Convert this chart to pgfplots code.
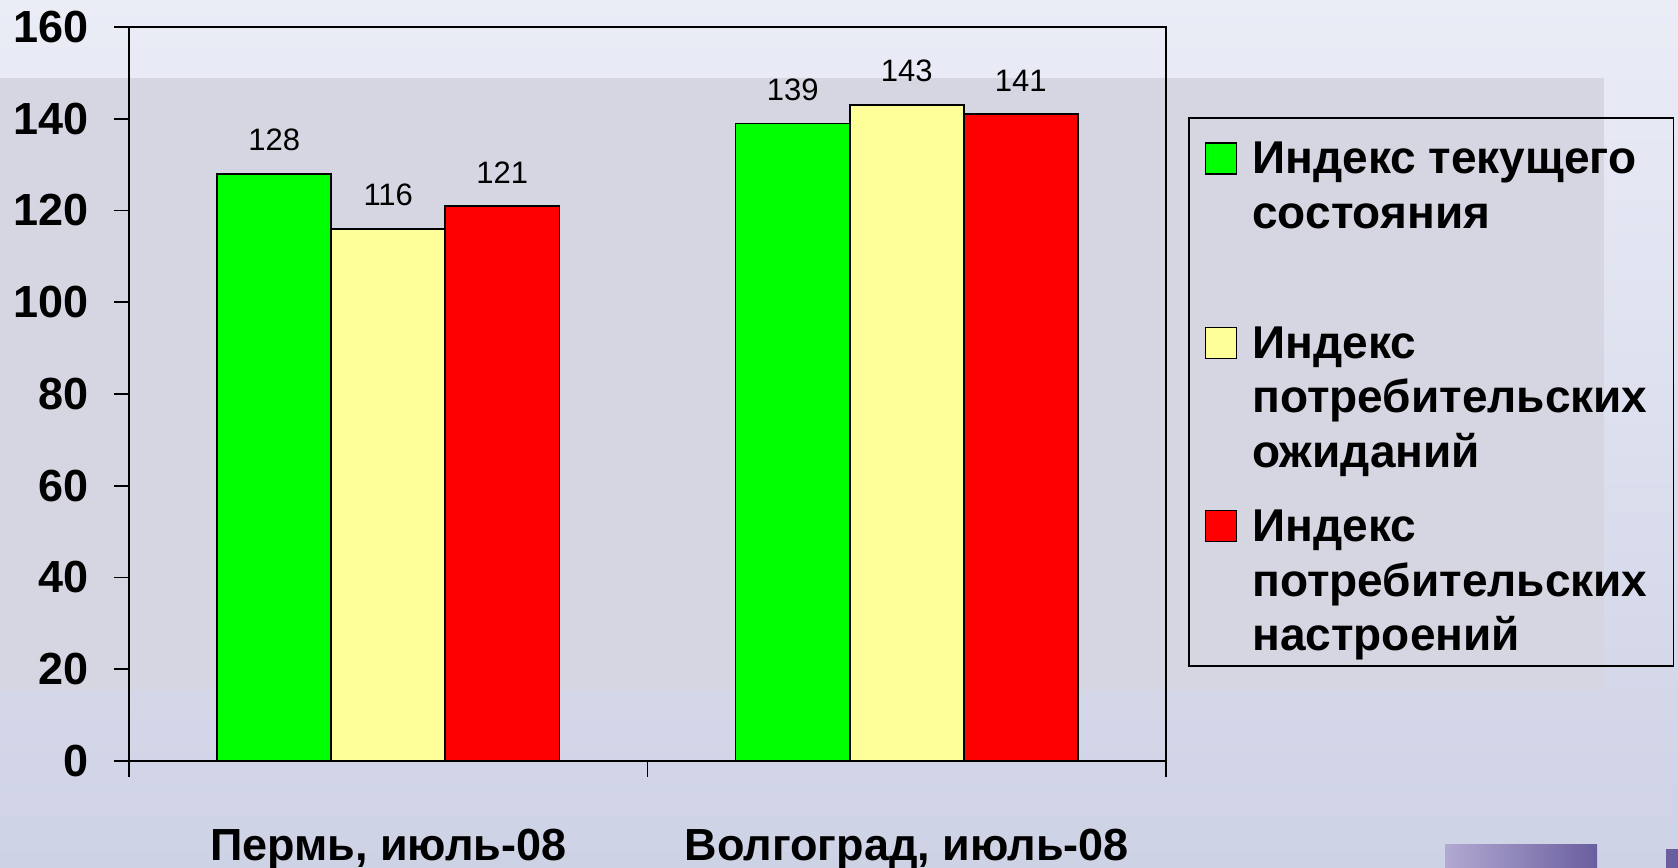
\documentclass[border=0pt]{standalone}
\usepackage{pgfplots}
\pgfplotsset{compat=1.18}
\usepackage{fontspec}
\setmainfont{Liberation Sans}
\definecolor{bgtop}{RGB}{234,236,246}
\definecolor{bgbot}{RGB}{206,210,229}
\definecolor{bgband}{RGB}{213,214,226}
\definecolor{barGreen}{RGB}{0,255,0}
\definecolor{barYellow}{RGB}{255,255,153}
\definecolor{barRed}{RGB}{255,0,0}
\definecolor{decoA}{RGB}{178,170,210}
\definecolor{decoB}{RGB}{106,94,158}
\pgfplotsset{
  sqleg/.style={legend image code/.code={\draw[##1,line width=0.8pt] (0pt,0pt) rectangle (15.5pt,15.5pt);}}
}
\newcommand{\lstrut}[2]{\rule[-#2]{0pt}{\dimexpr#1+#2\relax}}
\begin{document}
\begin{tikzpicture}
\useasboundingbox (0pt,0pt) rectangle (839pt,434pt);
\shade[top color=bgtop, bottom color=bgbot] (0pt,0pt) rectangle (839pt,434pt);
\fill[bgband] (0pt,89pt) rectangle (802pt,395pt);
\shade[left color=decoA, right color=decoB] (722.5pt,0pt) rectangle (798.5pt,11.5pt);
\shade[left color=decoB, right color=decoB] (833pt,0pt) rectangle (839pt,9pt);
\begin{axis}[
  at={(64.5pt,53.5pt)}, anchor=south west,
  scale only axis, width=518.5pt, height=367pt,
  xmin=-0.5, xmax=1.5, ymin=0, ymax=160,
  ytick={0,20,...,160},
  xtick={0,1},
  xticklabels={{Пермь, июль-08},{Волгоград, июль-08}},
  minor xtick={-0.5,0.5,1.5},
  tick align=outside,
  xtick pos=left, ytick pos=left,
  major tick length=7.5pt, minor tick length=8pt,
  tick style={black, line width=0.9pt},
  minor tick style={black, line width=0.9pt},
  major x tick style={draw=none},
  axis line style={black, line width=1pt},
  /pgf/number format/assume math mode=true,
  yticklabel style={font=\fontsize{22.5}{27}\selectfont\bfseries, anchor=east, inner sep=0pt, xshift=-12.5pt},
  xticklabel style={font=\fontsize{22.5}{27}\selectfont\bfseries, anchor=base, inner sep=0pt, yshift=-42.5pt},
  ybar, bar width=0.22,
  nodes near coords,
  every node near coord/.append style={font=\fontsize{15.5}{18}\selectfont, anchor=south, inner sep=0pt, yshift=11pt, black},
  legend cell align=left,
  legend style={at={(1.0212,0.8774)}, anchor=north west, draw=black, line width=0.8pt, fill=none,
    inner xsep=8pt, inner ysep=0pt, row sep=0pt, column sep=7.5pt,
    cells={anchor=base west},
    font=\fontsize{23}{27.3}\selectfont\bfseries, nodes={inner sep=0pt, text depth=, text height=}},
]
\addplot[fill=barGreen, draw=black, line width=0.8pt, bar shift=-0.22, forget plot] coordinates {(0,128) (1,139)};
\addplot[fill=barYellow, draw=black, line width=0.8pt, bar shift=0, forget plot] coordinates {(0,116) (1,143)};
\addplot[fill=barRed, draw=black, line width=0.8pt, bar shift=0.22, forget plot] coordinates {(0,121) (1,141)};
\addlegendimage{fill=barGreen, draw=black, sqleg}
\addlegendentry{\lstrut{28pt}{8.3pt}Индекс текущего}
\addlegendimage{empty legend}
\addlegendentry{\lstrut{19pt}{46pt}состояния}
\addlegendimage{fill=barYellow, draw=black, sqleg}
\addlegendentry{\lstrut{19pt}{8.3pt}Индекс}
\addlegendimage{empty legend}
\addlegendentry{\lstrut{19pt}{8.3pt}потребительских\hspace*{5pt}}
\addlegendimage{empty legend}
\addlegendentry{\lstrut{19pt}{18pt}ожиданий}
\addlegendimage{fill=barRed, draw=black, sqleg}
\addlegendentry{\lstrut{19pt}{8.3pt}Индекс}
\addlegendimage{empty legend}
\addlegendentry{\lstrut{19pt}{8.3pt}потребительских\hspace*{5pt}}
\addlegendimage{empty legend}
\addlegendentry{\lstrut{19pt}{7.5pt}настроений}
\end{axis}
\end{tikzpicture}
\end{document}
